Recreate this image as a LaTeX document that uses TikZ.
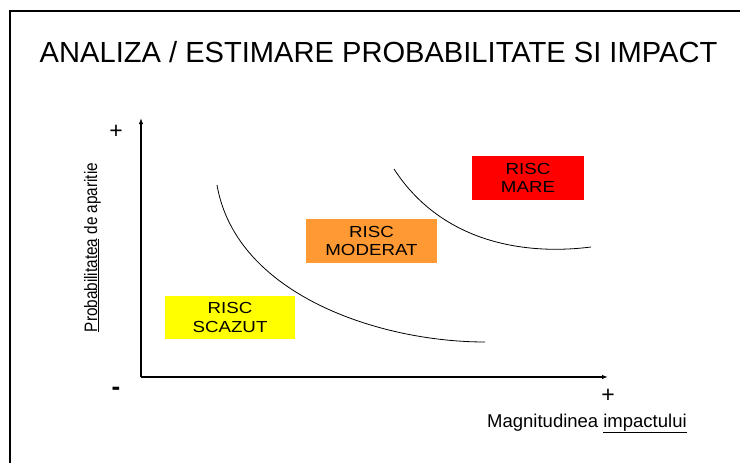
\documentclass[tikz,border=0pt]{standalone}
\usepackage{fontspec}
\setmainfont{Liberation Sans}
\newfontfamily\latfont[FakeStretch=1.17]{Liberation Sans}
\newfontfamily\ingustfont[FakeStretch=0.85]{Liberation Sans}
\usetikzlibrary{arrows.meta}

\definecolor{galben}{HTML}{FFFF00}
\definecolor{portocaliu}{HTML}{FF9933}
\definecolor{rosu}{HTML}{FF0000}

\begin{document}
\begin{tikzpicture}[x=1pt,y=-1pt,
        riscbox/.style={inner sep=0pt, align=center,
            font=\latfont\fontsize{16}{18.5}\selectfont},
        curba/.style={line width=0.8pt},
        axa/.style={line width=1.5pt, -{Latex[length=6pt,width=4.5pt]}},
        semn/.style={inner sep=0pt, font=\fontsize{23}{25}\selectfont}]
    \useasboundingbox (0,0) rectangle (740,463);
    % Chenar
    \draw[line width=2pt] (740,11) -- (10,11) -- (10,463);
    % Titlu
    \node[anchor=base] (titlu) at (378.5,63)
        {\fontsize{29.1}{32}\selectfont ANALIZA / ESTIMARE PROBABILITATE SI IMPACT};
    % Axe
    \coordinate (O) at (141,377);
    \coordinate (ysus) at (141,118);
    \coordinate (xdr) at (608,377);
    \draw[axa] (O) -- (ysus);
    \draw[axa] (O) -- (xdr);
    \node[semn] (plusy) at (116,132) {+};
    \node[semn] (plusx) at (608,396) {+};
    \node[inner sep=0pt] (minus) at (116,391) {\fontsize{26}{28}\selectfont\bfseries -};
    \node[anchor=base west, inner sep=0pt] (xlabel) at (487,427)
        {\fontsize{18.5}{20}\selectfont Magnitudinea \underline{impactului}};
    \node[rotate=90, anchor=base, inner sep=0pt] (ylabel) at (97,247.5)
        {\ingustfont\fontsize{18}{20}\selectfont\underline{Probabilitatea} de aparitie};
    % Curbe
    \draw[curba] (217,185) .. controls (236,295) and (380,342) .. (485,342);
    \draw[curba] (394,169) .. controls (440,240) and (520,256) .. (591,247);
    % Zone de risc
    \node[riscbox, fill=galben, minimum width=130pt, minimum height=43pt]
        (scazut) at (230,317.5) {RISC\\SCAZUT};
    \node[riscbox, fill=portocaliu, minimum width=131pt, minimum height=44pt]
        (moderat) at (371.5,241) {RISC\\MODERAT};
    \node[riscbox, fill=rosu, minimum width=112pt, minimum height=44pt]
        (mare) at (528,178) {RISC\\MARE};
\end{tikzpicture}
\end{document}
